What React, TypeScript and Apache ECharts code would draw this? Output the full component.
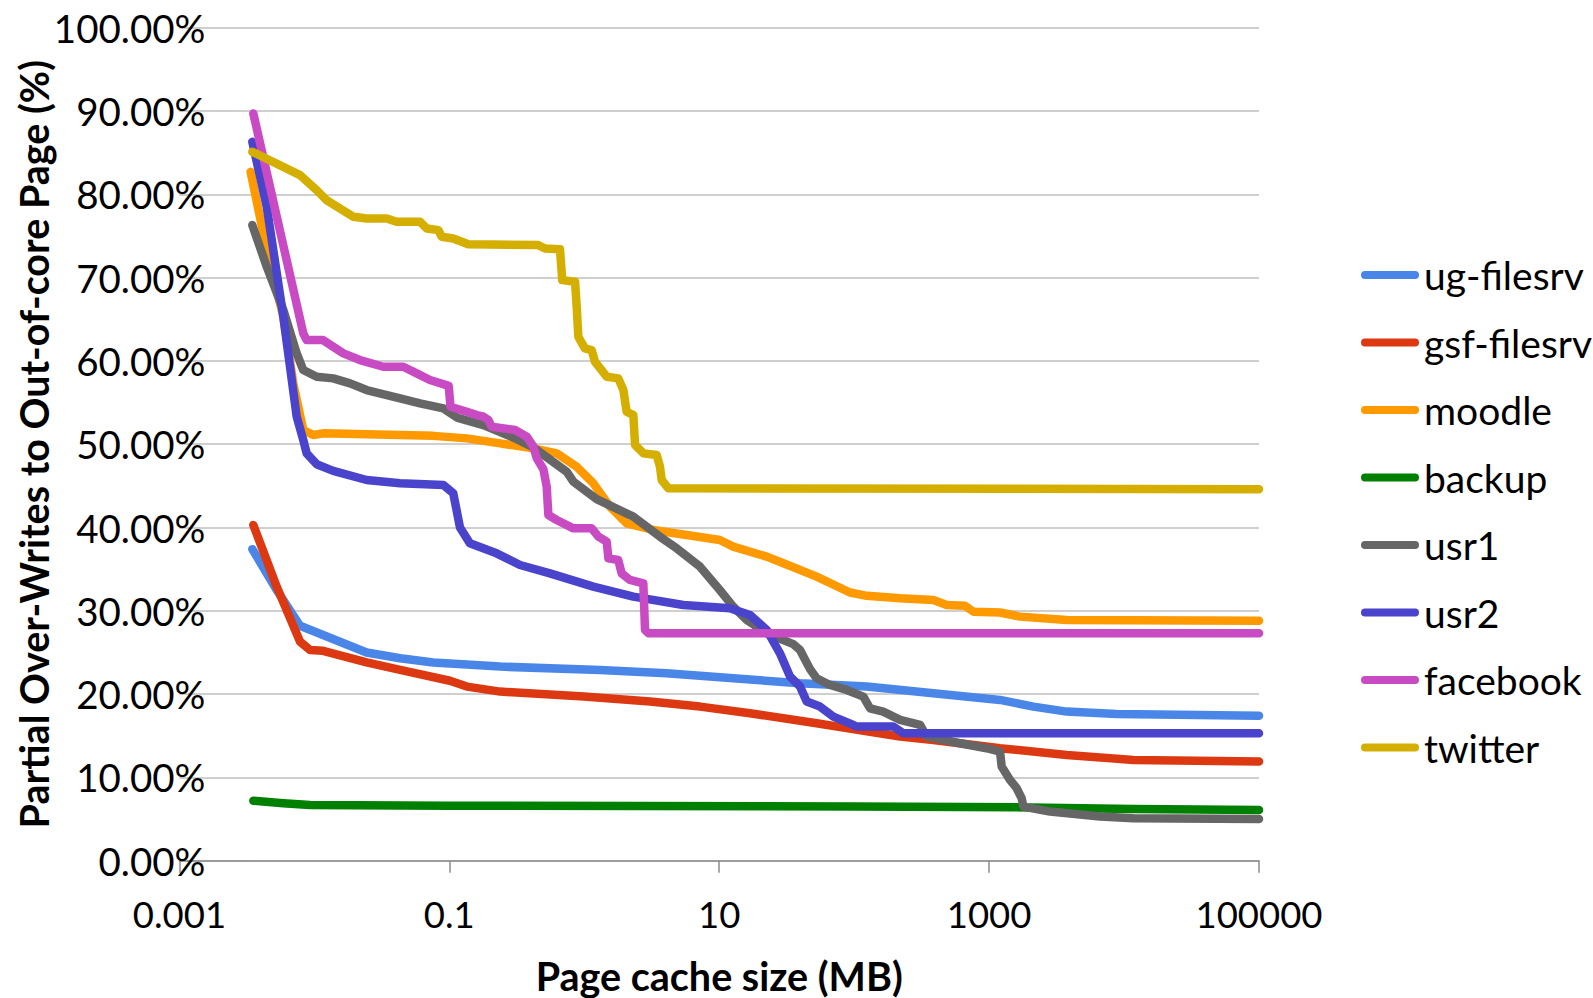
import React, { useEffect, useRef } from 'react';
import * as echarts from 'echarts';

// ---- Data ----
const seriesNames = ['ug-filesrv', 'gsf-filesrv', 'moodle', 'backup', 'usr1', 'usr2', 'facebook', 'twitter'];
const seriesColors = ['#4A86E8', '#DC3912', '#FF9900', '#008000', '#666666', '#4A43CC', '#C94BC4', '#D5AF00'];
const xTickValues = [0.001, 0.1, 10, 1000, 100000];

const ugFilesrv: [number, number][] = [
  [0.00347, 37.4], [0.00526, 32.5], [0.00783, 28.2], [0.0116, 27.1], [0.0244, 25.0], [0.0432, 24.3],
  [0.076, 23.8], [0.238, 23.3], [1.309, 22.9], [4.08, 22.5], [12.7, 21.9], [39.7, 21.3], [124, 20.9],
  [386, 20.1], [1205, 19.3], [2128, 18.5], [3758, 17.9], [8810, 17.6], [100000, 17.4],
];
const gsfFilesrv: [number, number][] = [
  [0.00353, 40.3], [0.00526, 32.9], [0.00783, 26.3], [0.00929, 25.3], [0.0116, 25.2], [0.0244, 23.8],
  [0.0432, 22.9], [0.101, 21.6], [0.135, 20.9], [0.238, 20.3], [0.995, 19.7], [3.07, 19.1], [7.21, 18.5],
  [16.9, 17.7], [52.7, 16.5], [219, 14.9], [386, 14.5], [1205, 13.5], [3758, 12.7], [11720, 12.1], [100000, 11.9],
];
const moodle: [number, number][] = [
  [0.00337, 82.7], [0.00444, 73.3], [0.00589, 65.3], [0.00698, 57.3], [0.00828, 51.7], [0.00982, 51.1],
  [0.0116, 51.3], [0.0244, 51.2], [0.076, 51.0], [0.135, 50.7], [0.238, 50.1], [0.42, 49.5], [0.625, 48.9],
  [0.879, 47.3], [1.167, 45.3], [1.552, 42.5], [2.06, 40.5], [3.25, 39.7], [5.74, 39.1], [10.1, 38.5],
  [12.7, 37.7], [22.5, 36.5], [29.9, 35.7], [52.7, 34.1], [93.1, 32.2], [124, 31.8], [219, 31.5], [386, 31.3],
  [485, 30.7], [662, 30.6], [764, 29.9], [1205, 29.8], [1694, 29.3], [3758, 28.9], [100000, 28.8],
];
const backup: [number, number][] = [
  [0.00353, 7.2], [0.00589, 6.9], [0.00929, 6.7], [0.1, 6.6], [100, 6.5], [2000, 6.4], [11720, 6.2], [100000, 6.1],
];
const usr1: [number, number][] = [
  [0.00347, 76.3], [0.00444, 71.3], [0.00589, 66.1], [0.0074, 60.9], [0.00828, 58.9], [0.0104, 58.1],
  [0.0138, 57.9], [0.0184, 57.3], [0.0244, 56.5], [0.0432, 55.5], [0.0607, 54.9], [0.0904, 54.3],
  [0.114, 53.2], [0.179, 52.3], [0.298, 50.8], [0.42, 49.6], [0.741, 46.7], [0.83, 45.5], [1.236, 43.4],
  [2.31, 41.3], [3.64, 38.9], [4.84, 37.5], [7.21, 35.3], [10.1, 32.5], [12.7, 30.5], [16.0, 28.9],
  [22.5, 27.3], [35.4, 26.0], [39.7, 25.3], [47.1, 23.0], [52.7, 21.9], [66.2, 21.1], [88.1, 20.5],
  [117, 19.7], [131, 18.3], [164, 17.9], [219, 16.9], [308, 16.3], [344, 14.9], [608, 14.1], [959, 13.5],
  [1205, 13.1], [1239, 11.3], [1429, 9.7], [1600, 8.7], [1742, 7.5], [1795, 6.5], [2825, 5.9], [6637, 5.3],
  [11720, 5.1], [100000, 5.0],
];
const usr2: [number, number][] = [
  [0.00347, 86.3], [0.00444, 78.5], [0.00589, 65.3], [0.0074, 53.3], [0.00828, 50.5], [0.00877, 48.9],
  [0.0104, 47.6], [0.0138, 46.8], [0.0244, 45.7], [0.0432, 45.3], [0.0904, 45.1], [0.107, 44.1], [0.12, 40.0],
  [0.142, 38.1], [0.224, 36.9], [0.334, 35.5], [0.557, 34.5], [1.167, 32.9], [2.31, 31.7], [5.42, 30.7],
  [12.0, 30.3], [16.9, 29.5], [22.5, 27.7], [28.2, 24.9], [33.5, 22.1], [39.7, 20.9], [44.5, 19.1],
  [55.8, 18.5], [70.1, 17.3], [98.6, 16.3], [104, 16.1], [195, 16.1], [231, 15.3], [100000, 15.3],
];
const facebook: [number, number][] = [
  [0.00353, 89.7], [0.00828, 63.3], [0.00877, 62.5], [0.0116, 62.5], [0.0164, 60.9], [0.0218, 60.1],
  [0.0324, 59.3], [0.0456, 59.3], [0.0573, 58.5], [0.0719, 57.7], [0.099, 57.0], [0.102, 54.5], [0.135, 53.9],
  [0.16, 53.5], [0.179, 53.3], [0.195, 52.9], [0.206, 52.1], [0.307, 51.7], [0.375, 50.9], [0.42, 49.7],
  [0.445, 48.3], [0.498, 47.0], [0.527, 44.9], [0.542, 41.5], [0.625, 40.9], [0.83, 39.9], [1.135, 39.9],
  [1.274, 38.9], [1.466, 38.3], [1.51, 36.3], [1.786, 36.1], [1.892, 34.5], [2.18, 33.7], [2.74, 33.3],
  [2.82, 27.7], [2.99, 27.3], [100000, 27.3],
];
const twitter: [number, number][] = [
  [0.00347, 85.1], [0.00783, 82.3], [0.0104, 80.5], [0.0123, 79.3], [0.0195, 77.3], [0.0244, 77.1],
  [0.0344, 77.1], [0.0407, 76.7], [0.0607, 76.7], [0.0681, 75.9], [0.083, 75.7], [0.0879, 74.9],
  [0.107, 74.7], [0.138, 74.0], [0.456, 73.9], [0.512, 73.5], [0.661, 73.4], [0.687, 69.7], [0.855, 69.5],
  [0.879, 66.5], [0.904, 62.9], [1.01, 61.5], [1.135, 61.3], [1.2, 59.9], [1.466, 58.1], [1.786, 57.9],
  [1.95, 56.5], [2.06, 53.9], [2.31, 53.5], [2.38, 49.9], [2.74, 48.9], [3.44, 48.7], [3.64, 47.3],
  [3.75, 45.7], [4.2, 44.7], [100000, 44.6],
];
const seriesData = [ugFilesrv, gsfFilesrv, moodle, backup, usr1, usr2, facebook, twitter];

const FONT = 'Lato';

function fmtX(v: number): string {
  if (v < 1) return String(parseFloat(v.toPrecision(3)));
  return String(Math.round(v));
}

export default function App() {
  const ref = useRef<HTMLDivElement>(null);
  useEffect(() => {
    if (!ref.current) return;
    const chart = echarts.init(ref.current, undefined, { renderer: 'svg' });
    chart.setOption({
      animation: false,
      backgroundColor: '#ffffff',
      textStyle: { fontFamily: FONT, color: '#000' },
      grid: {
        left: 179.4, right: 334, top: 27.7, bottom: 137.3,
        containLabel: false, outerBoundsMode: 'none',
      },
      xAxis: {
        type: 'log',
        logBase: 10,
        min: 0.001,
        max: 100000,
        name: 'Page cache size (MB)',
        nameLocation: 'middle',
        nameGap: 95,
        nameMoveOverlap: false,
        nameTextStyle: { fontFamily: FONT, fontSize: 39.5, fontWeight: 'bold', color: '#000' },
        axisLine: { show: true, lineStyle: { color: '#8c8c8c', width: 1.5 } },
        axisTick: { show: true, length: 12, customValues: xTickValues, lineStyle: { color: '#8c8c8c', width: 1.5 } },
        minorTick: { show: false },
        axisLabel: { customValues: xTickValues, fontFamily: FONT, fontSize: 36.5, color: '#000', margin: 35, formatter: fmtX },
        splitLine: { show: false },
      },
      yAxis: {
        type: 'value',
        min: 0,
        max: 100,
        interval: 10,
        name: 'Partial Over-Writes to Out-of-core Page (%)',
        nameLocation: 'middle',
        nameRotate: 90,
        nameGap: 126,
        nameMoveOverlap: false,
        nameTextStyle: { fontFamily: FONT, fontSize: 39.5, fontWeight: 'bold', color: '#000' },
        axisLine: { show: false },
        axisTick: { show: false },
        axisLabel: {
          fontFamily: FONT, fontSize: 38.5, color: '#000', margin: -26,
          formatter: (v: number) => v.toFixed(2) + '%',
        },
        splitLine: { show: true, lineStyle: { color: '#bfbfbf', width: 1.5 } },
      },
      legend: {
        orient: 'vertical',
        left: 1361,
        top: 255,
        padding: 0,
        itemWidth: 58,
        itemHeight: 8,
        itemGap: 27.5,
        icon: 'path://M4 0H54A4 4 0 0 1 54 8H4A4 4 0 0 1 4 0Z',
        textStyle: { fontFamily: FONT, fontSize: 39, color: '#000', lineHeight: 40 },
        data: seriesNames,
        selectedMode: false,
      },
      series: seriesNames.map((name, i) => ({
        name,
        type: 'line',
        data: seriesData[i],
        symbol: 'none',
        showSymbol: false,
        smooth: false,
        color: seriesColors[i],
        itemStyle: { color: seriesColors[i] },
        lineStyle: { width: 8.5, color: seriesColors[i], cap: 'round', join: 'round' },
        emphasis: { disabled: true },
      })),
    });
    return () => chart.dispose();
  }, []);
  return (
    <div
      ref={ref}
      style={{ position: 'fixed', left: 0, top: 0, width: 1593, height: 998, background: '#fff' }}
    />
  );
}
